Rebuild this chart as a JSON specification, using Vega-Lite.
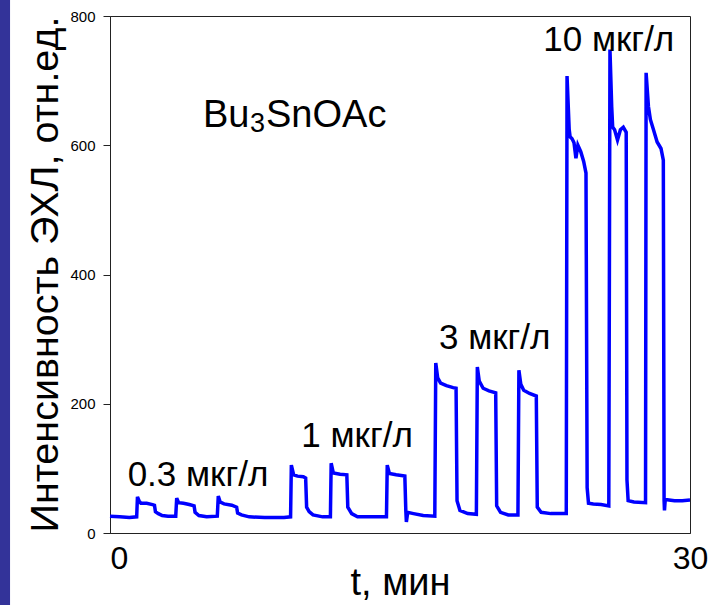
{
  "$schema": "https://vega.github.io/schema/vega-lite/v6.json",
  "width": 580,
  "height": 517,
  "autosize": "none",
  "padding": {"left": 110, "top": 16, "right": 23, "bottom": 72},
  "background": "white",
  "config": {
    "view": {"stroke": "#222", "strokeWidth": 1},
    "font": "Liberation Sans"
  },
  "layer": [
    {
      "data": {"values": [{}]},
      "mark": {"type": "rect", "color": "#333399", "clip": false},
      "encoding": {
        "x": {"datum": -5.75, "type": "quantitative"},
        "x2": {"datum": -5.17},
        "y": {"datum": -130, "type": "quantitative"},
        "y2": {"datum": 840}
      }
    },
    {
      "data": {
        "values": [
          {"t": 0, "v": 26}, {"t": 0.5, "v": 25}, {"t": 1.0, "v": 24}, {"t": 1.38, "v": 25},
          {"t": 1.42, "v": 56}, {"t": 1.5, "v": 50}, {"t": 1.6, "v": 46}, {"t": 1.9, "v": 46},
          {"t": 2.2, "v": 44}, {"t": 2.3, "v": 43}, {"t": 2.35, "v": 33}, {"t": 2.5, "v": 30},
          {"t": 2.7, "v": 27}, {"t": 3.0, "v": 26}, {"t": 3.4, "v": 26}, {"t": 3.45, "v": 54},
          {"t": 3.55, "v": 47}, {"t": 3.8, "v": 46}, {"t": 4.1, "v": 44}, {"t": 4.35, "v": 42},
          {"t": 4.4, "v": 32}, {"t": 4.6, "v": 27}, {"t": 5.0, "v": 25}, {"t": 5.55, "v": 26},
          {"t": 5.6, "v": 57}, {"t": 5.7, "v": 48}, {"t": 5.9, "v": 45}, {"t": 6.3, "v": 43},
          {"t": 6.55, "v": 40}, {"t": 6.6, "v": 31}, {"t": 6.8, "v": 28}, {"t": 7.2, "v": 25},
          {"t": 8.0, "v": 24}, {"t": 9.0, "v": 24}, {"t": 9.34, "v": 25}, {"t": 9.38, "v": 105},
          {"t": 9.5, "v": 90}, {"t": 9.7, "v": 88}, {"t": 10.0, "v": 87}, {"t": 10.12, "v": 85},
          {"t": 10.17, "v": 40}, {"t": 10.3, "v": 33}, {"t": 10.5, "v": 28}, {"t": 11.0, "v": 25},
          {"t": 11.4, "v": 25}, {"t": 11.44, "v": 108}, {"t": 11.55, "v": 93}, {"t": 11.9, "v": 91},
          {"t": 12.25, "v": 90}, {"t": 12.3, "v": 40}, {"t": 12.5, "v": 30}, {"t": 12.8, "v": 25},
          {"t": 14.3, "v": 25}, {"t": 14.34, "v": 105}, {"t": 14.45, "v": 92}, {"t": 14.8, "v": 90},
          {"t": 15.25, "v": 88}, {"t": 15.3, "v": 35}, {"t": 15.33, "v": 17}, {"t": 15.4, "v": 32},
          {"t": 15.7, "v": 30}, {"t": 16.2, "v": 27}, {"t": 16.8, "v": 26}, {"t": 16.85, "v": 263},
          {"t": 16.95, "v": 240}, {"t": 17.1, "v": 232}, {"t": 17.4, "v": 228}, {"t": 17.75, "v": 225},
          {"t": 17.9, "v": 224}, {"t": 17.95, "v": 50}, {"t": 18.1, "v": 35}, {"t": 18.5, "v": 30},
          {"t": 18.95, "v": 29}, {"t": 19.0, "v": 257}, {"t": 19.1, "v": 235}, {"t": 19.3, "v": 224},
          {"t": 19.6, "v": 220}, {"t": 19.95, "v": 217}, {"t": 20.0, "v": 42}, {"t": 20.2, "v": 32},
          {"t": 20.6, "v": 28}, {"t": 21.1, "v": 28}, {"t": 21.15, "v": 252}, {"t": 21.25, "v": 230},
          {"t": 21.4, "v": 221}, {"t": 21.7, "v": 216}, {"t": 22.05, "v": 212}, {"t": 22.1, "v": 40},
          {"t": 22.3, "v": 32}, {"t": 22.8, "v": 30}, {"t": 23.2, "v": 30}, {"t": 23.6, "v": 30},
          {"t": 23.64, "v": 707}, {"t": 23.75, "v": 625}, {"t": 23.8, "v": 613}, {"t": 23.9, "v": 610},
          {"t": 24.0, "v": 604}, {"t": 24.1, "v": 580}, {"t": 24.2, "v": 600}, {"t": 24.35, "v": 590},
          {"t": 24.5, "v": 575}, {"t": 24.62, "v": 557}, {"t": 24.68, "v": 70}, {"t": 24.75, "v": 46},
          {"t": 25.0, "v": 45}, {"t": 25.4, "v": 44}, {"t": 25.8, "v": 42}, {"t": 25.86, "v": 748},
          {"t": 25.95, "v": 660}, {"t": 26.0, "v": 628}, {"t": 26.1, "v": 624}, {"t": 26.25, "v": 608},
          {"t": 26.4, "v": 624}, {"t": 26.55, "v": 628}, {"t": 26.7, "v": 620}, {"t": 26.74, "v": 82},
          {"t": 26.8, "v": 50}, {"t": 27.1, "v": 48}, {"t": 27.7, "v": 47}, {"t": 27.73, "v": 712},
          {"t": 27.85, "v": 660}, {"t": 27.95, "v": 640}, {"t": 28.1, "v": 625}, {"t": 28.3, "v": 605},
          {"t": 28.5, "v": 595}, {"t": 28.62, "v": 577}, {"t": 28.66, "v": 50}, {"t": 28.68, "v": 35},
          {"t": 28.72, "v": 52}, {"t": 29.2, "v": 50}, {"t": 29.6, "v": 50}, {"t": 30.0, "v": 51}
        ]
      },
      "mark": {"type": "line", "color": "#0000ff", "strokeWidth": 3.5, "strokeJoin": "miter"},
      "encoding": {
        "x": {
          "field": "t", "type": "quantitative",
          "scale": {"domain": [0, 30], "nice": false, "zero": false},
          "axis": {
            "title": "t, мин", "values": [0, 30], "grid": false, "ticks": false,
            "domainColor": "#222", "labelColor": "#000",
            "labelFontSize": 32, "labelPadding": 25, "labelBaseline": "middle",
            "labelAlign": {"expr": "datum.value === 0 ? 'left' : 'center'"},
            "labelFlush": false, "labelOverlap": false,
            "titleFontSize": 38, "titleFontWeight": "normal", "titleColor": "#000",
            "titleX": 290, "titleY": 50, "titleBaseline": "middle", "titleAlign": "center"
          }
        },
        "y": {
          "field": "v", "type": "quantitative",
          "scale": {"domain": [0, 800], "nice": false, "zero": false},
          "axis": {
            "title": "Интенсивность ЭХЛ, отн.ед.", "values": [0, 200, 400, 600, 800],
            "grid": false, "tickSize": 7, "labelFontSize": 15, "labelPadding": 8,
            "domainColor": "#222", "tickColor": "#222", "labelColor": "#000",
            "titleFontSize": 39.5, "titleFontWeight": "normal", "titleColor": "#000",
            "titleX": -65, "titleY": 258, "titleAngle": -90,
            "titleAlign": "center", "titleBaseline": "middle"
          }
        }
      }
    },
    {
      "data": {
        "values": [
          {"t": 4.55, "v": 90, "label": "0.3 мкг/л"},
          {"t": 12.78, "v": 150, "label": "1 мкг/л"},
          {"t": 19.9, "v": 302, "label": "3 мкг/л"},
          {"t": 25.8, "v": 763, "label": "10 мкг/л"}
        ]
      },
      "mark": {"type": "text", "fontSize": 35, "color": "#000", "align": "center", "baseline": "middle"},
      "encoding": {
        "x": {"field": "t", "type": "quantitative"},
        "y": {"field": "v", "type": "quantitative"},
        "text": {"field": "label"}
      }
    },
    {
      "data": {"values": [{"t": 4.81, "v": 645, "label": "Bu"}]},
      "mark": {"type": "text", "fontSize": 38, "color": "#000", "align": "left", "baseline": "middle"},
      "encoding": {
        "x": {"field": "t", "type": "quantitative"},
        "y": {"field": "v", "type": "quantitative"},
        "text": {"field": "label"}
      }
    },
    {
      "data": {"values": [{"t": 4.81, "v": 645, "label": "3"}]},
      "mark": {"type": "text", "fontSize": 27, "color": "#000", "align": "left", "baseline": "middle", "dx": 47, "dy": 8},
      "encoding": {
        "x": {"field": "t", "type": "quantitative"},
        "y": {"field": "v", "type": "quantitative"},
        "text": {"field": "label"}
      }
    },
    {
      "data": {"values": [{"t": 4.81, "v": 645, "label": "SnOAc"}]},
      "mark": {"type": "text", "fontSize": 38, "color": "#000", "align": "left", "baseline": "middle", "dx": 63},
      "encoding": {
        "x": {"field": "t", "type": "quantitative"},
        "y": {"field": "v", "type": "quantitative"},
        "text": {"field": "label"}
      }
    }
  ]
}
